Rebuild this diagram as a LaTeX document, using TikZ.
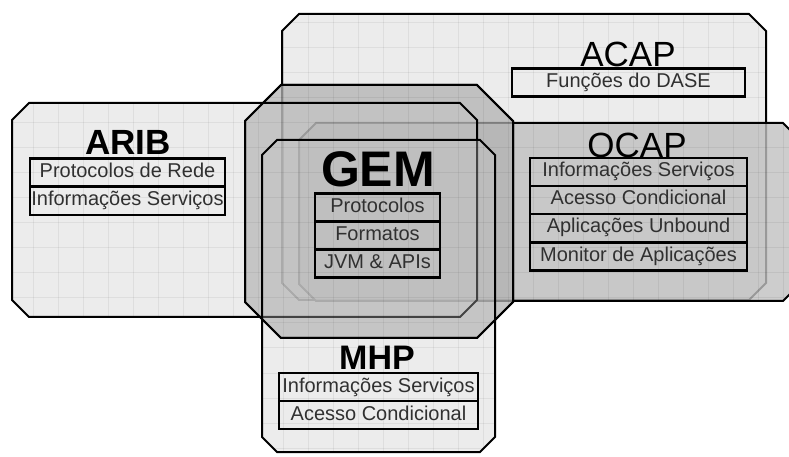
\documentclass[tikz,border=0pt]{standalone}
\usepackage{fontspec}
\setmainfont{Liberation Sans}

\definecolor{acapfill}{RGB}{236,236,236}
\definecolor{ocapfill}{RGB}{192,192,192}
\definecolor{gemfill}{RGB}{178,178,178}
\definecolor{lightfill}{RGB}{199,199,199}
\definecolor{boxtext}{RGB}{48,48,48}

% octagonal frame: left, top, right, bottom, chamfer
\newcommand{\chamrect}[5]{(#1+#5,#2) -- (#3-#5,#2) -- (#3,#2+#5) -- (#3,#4-#5) -- (#3-#5,#4) -- (#1+#5,#4) -- (#1,#4-#5) -- (#1,#2+#5) -- cycle}

\tikzset{
  frame/.style={draw=black, line width=2bp, line join=miter},
  gridline/.style={draw=black, draw opacity=0.06, line width=1bp},
  stdtitle/.style={inner sep=0pt, text=black, font=\fontsize{35bp}{36bp}\selectfont},
  boldtitle/.style={inner sep=0pt, text=black, font=\fontsize{35bp}{36bp}\selectfont\bfseries},
  layer/.style={draw=black, line width=2.5bp, inner sep=0pt, text=boxtext,
    font=\fontsize{20bp}{22bp}\selectfont, text height=14bp, text depth=4bp,
    minimum height=28bp}
}

\begin{document}
\begin{tikzpicture}[x=1bp, y=-1bp]
\useasboundingbox (0,0) rectangle (789,457);
\clip (0,0) rectangle (789,457);

% standards, from back to front
\path[frame, fill=acapfill] \chamrect{282}{14}{766}{300}{17};
\path[frame, fill=ocapfill, fill opacity=0.8] \chamrect{299}{123}{800}{301}{17};
\path[frame, fill=gemfill, fill opacity=0.75] \chamrect{245}{85}{513}{338}{36};
\path[frame, fill=lightfill, fill opacity=0.34] \chamrect{12}{103}{477}{317}{17};
\path[frame, fill=lightfill, fill opacity=0.34] \chamrect{262}{140}{495}{452}{15};

% faint paper grid inside the frames
\begin{scope}
  \clip \chamrect{282}{14}{766}{300}{17} \chamrect{299}{123}{800}{301}{17}
        \chamrect{245}{85}{513}{338}{36} \chamrect{12}{103}{477}{317}{17}
        \chamrect{262}{140}{495}{452}{15};
  \foreach \gx in {8,33,...,790} \draw[gridline] (\gx,0) -- (\gx,457);
  \foreach \gy in {23,48,...,457} \draw[gridline] (0,\gy) -- (789,\gy);
\end{scope}

% GEM outline stays on top
\path[frame] \chamrect{245}{85}{513}{338}{36};

% ACAP
\node[stdtitle] (acap) at (628,54) {ACAP};
\node[layer, minimum width=233bp] (acap1) at (628.5,82.5) {Funções do DASE};

% ARIB
\node[boldtitle] (arib) at (128,142.5) {ARIB};
\node[layer, minimum width=195bp] (arib1) at (127.5,172.5) {Protocolos de Rede};
\node[layer, minimum width=195bp] (arib2) at (127.5,200.8) {Informações Serviços};

% GEM
\node[boldtitle, font=\fontsize{50bp}{52bp}\selectfont\bfseries] (gem) at (378,169) {GEM};
\node[layer, minimum width=125bp] (gem1) at (377.5,207.5) {Protocolos};
\node[layer, minimum width=125bp] (gem2) at (377.5,236) {Formatos};
\node[layer, minimum width=125bp] (gem3) at (377.5,263.5) {JVM \& APIs};

% OCAP
\node[stdtitle] (ocap) at (637,145) {OCAP};
\node[layer, minimum width=217bp] (ocap1) at (638.5,172) {Informações Serviços};
\node[layer, minimum width=217bp] (ocap2) at (638.5,200) {Acesso Condicional};
\node[layer, minimum width=217bp] (ocap3) at (638.5,228) {Aplicações Unbound};
\node[layer, minimum width=217bp] (ocap4) at (638.5,256.5) {Monitor de Aplicações};

% MHP
\node[boldtitle, font=\fontsize{34bp}{36bp}\selectfont\bfseries] (mhp) at (377,357.5) {MHP};
\node[layer, minimum width=199bp] (mhp1) at (378.5,387) {Informações Serviços};
\node[layer, minimum width=199bp] (mhp2) at (378.5,415) {Acesso Condicional};
\end{tikzpicture}
\end{document}
